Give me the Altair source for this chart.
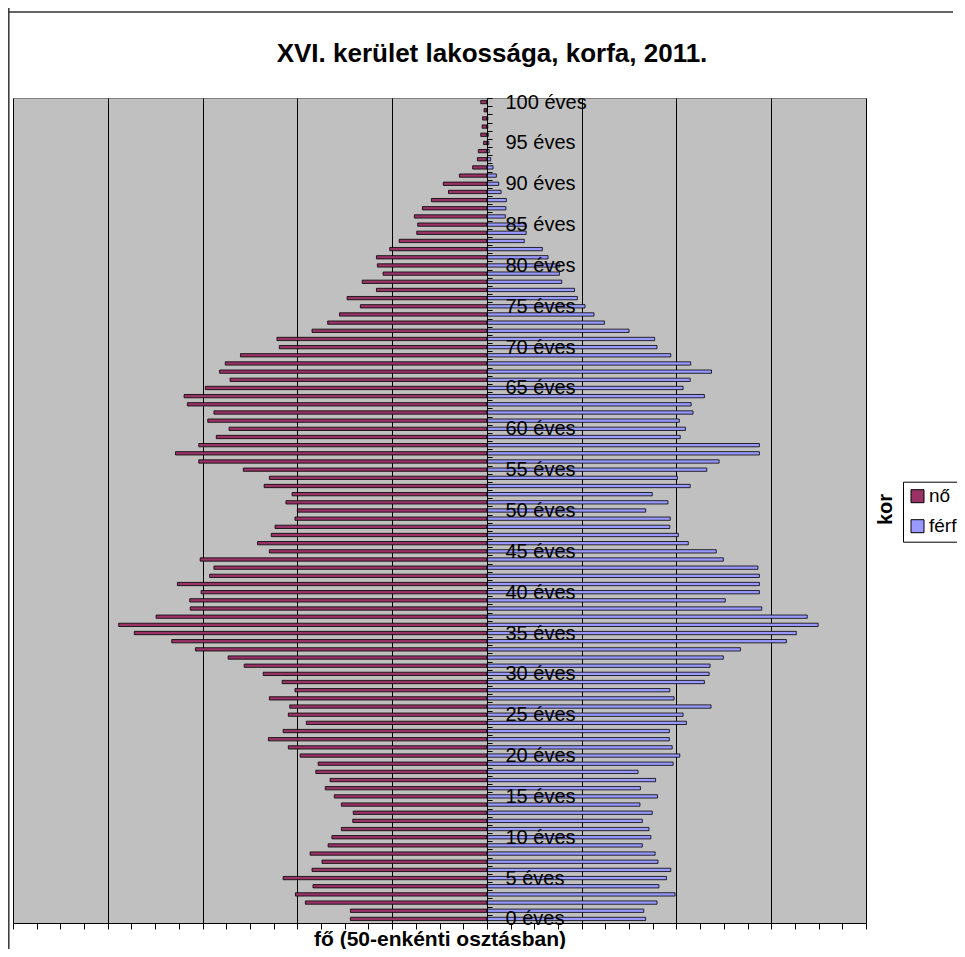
import altair as alt
import pandas as pd

FONT = "Liberation Sans"

chart_title = "XVI. kerület lakossága, korfa, 2011."
ages = list(range(101))
# women (nő), ages 0..100
female = [288, 288, 383, 404, 367, 430, 369, 348, 373, 335,
          327, 307, 283, 282, 307, 322, 341, 331, 361, 356,
          394, 419, 461, 430, 381, 419, 416, 459, 405, 432,
          472, 512, 546, 615, 665, 744, 777, 698, 626, 627,
          603, 653, 585, 576, 605, 459, 484, 455, 447, 405,
          400, 424, 411, 470, 459, 514, 608, 657, 608, 571,
          544, 589, 576, 632, 639, 594, 542, 564, 552, 520,
          438, 443, 369, 336, 311, 267, 295, 233, 263, 219,
          231, 233, 205, 185, 148, 146, 153, 136, 117, 81,
          92, 58, 30, 20, 18, 7, 13, 10, 9, 6,
          13]
# men (férfi), ages 0..100
male = [335, 331, 359, 397, 363, 379, 388, 361, 355, 328,
        346, 342, 328, 349, 323, 360, 324, 356, 319, 393,
        407, 391, 385, 385, 421, 414, 473, 395, 386, 459,
        469, 471, 499, 535, 632, 653, 699, 676, 580, 503,
        575, 575, 575, 572, 499, 484, 425, 404, 386, 387,
        335, 382, 349, 429, 402, 464, 490, 575, 575, 408,
        419, 406, 435, 431, 459, 414, 429, 474, 430, 388,
        359, 354, 300, 248, 226, 207, 191, 185, 158, 153,
        154, 129, 117, 79, 83, 82, 39, 40, 41, 30,
        25, 20, 13, 8, 5, 4, 3, 2, 2, 1,
        1]
series = ["nő", "férfi"]
colors = ["#993366", "#9999FF"]

rows = []
for a, f, m in zip(ages, female, male):
    rows.append({"kor": a, "nem": "nő", "fo": -f})
    rows.append({"kor": a, "nem": "férfi", "fo": m})
df = pd.DataFrame(rows)

ytick_vals = [k - 0.5 for k in range(102)]
xtick_vals = list(range(-1000, 801, 50))

bars = alt.Chart(df).mark_bar(
    size=3.3, orient="horizontal", stroke="black", strokeWidth=0.8
).encode(
    x=alt.X(
        "fo:Q",
        scale=alt.Scale(domain=[-1000, 800], nice=False, padding=0),
        axis=alt.Axis(
            values=xtick_vals, labels=False, tickSize=6, tickColor="black",
            domainColor="black", grid=True, gridColor="black",
            gridOpacity={"condition": {"test": "datum.value % 200 === 0", "value": 1}, "value": 0},
            title="fő (50-enkénti osztásban)", titleFont=FONT, titleFontSize=21,
            titleFontWeight="bold", titleBaseline="alphabetic", titleY=22,
            titleColor="black",
        ),
    ),
    y=alt.Y(
        "kor:Q",
        scale=alt.Scale(domain=[-0.5, 100.5], nice=False, zero=False, padding=0),
        axis=alt.Axis(
            orient="right", offset=-379, values=ytick_vals, tickSize=5,
            tickColor="black", domainColor="black", grid=False, zindex=1,
            labelExpr="(datum.value - 0.5) % 5 === 0 ? (datum.value - 0.5) + ' éves' : ''",
            labelOffset=4.08, labelPadding=13, labelFont=FONT, labelFontSize=20,
            labelColor="black", labelOverlap=False, labelBound=False, labelFlush=False,
            title="kor", titleAngle=270, titleX=398, titleY=411, titleAlign="center",
            titleBaseline="middle", titleFont=FONT, titleFontSize=20,
            titleFontWeight="bold", titleColor="black",
        ),
    ),
    color=alt.Color(
        "nem:N",
        scale=alt.Scale(domain=series, range=colors),
        legend=alt.Legend(
            title=None, orient="none", legendX=890, legendY=383.7,
            strokeColor="black", fillColor="white", padding=5,
            symbolType="square", symbolSize=169, symbolStrokeColor="black",
            symbolStrokeWidth=1, symbolOpacity=1, labelFont=FONT, labelFontSize=19,
            labelColor="black", rowPadding=10, labelOffset=2,
        ),
    ),
)

frame_left = alt.Chart(alt.Data(values=[{}])).mark_rule(
    color="#404040", strokeWidth=1.6
).encode(x=alt.value(-4.2), y=alt.value(-90), y2=alt.value(900))

frame_top = alt.Chart(alt.Data(values=[{}])).mark_rule(
    color="#333333", strokeWidth=1.3
).encode(x=alt.value(-5), x2=alt.value(940), y=alt.value(-86))

title_mark = alt.Chart(alt.Data(values=[{"t": chart_title}])).mark_text(
    font=FONT, fontSize=26, fontWeight="bold", align="center",
    baseline="alphabetic", color="black"
).encode(text="t:N", x=alt.value(479), y=alt.value(-36.5))

chart = alt.layer(frame_left, frame_top, title_mark, bars).properties(
    width=853,
    height=825,
    autosize="none",
    padding={"left": 5, "top": 90, "right": 91, "bottom": 26},
).configure_view(fill="#C0C0C0", stroke="#808080", strokeWidth=1)

chart.save("out.html", embed_options={"renderer": "svg", "actions": False})
